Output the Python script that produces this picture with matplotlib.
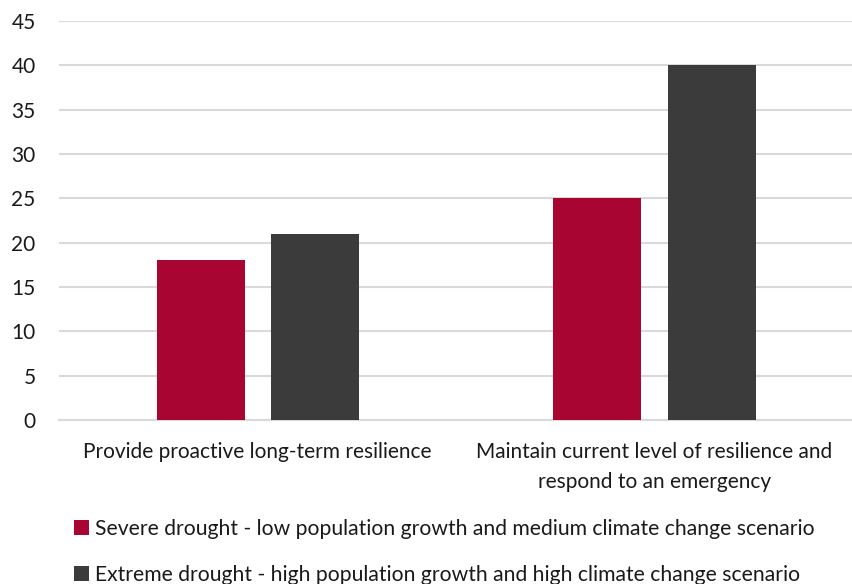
import matplotlib
matplotlib.use("Agg")
import matplotlib.pyplot as plt
import numpy as np

categories = ["Provide proactive long-term resilience",
              "Maintain current level of resilience and\nrespond to an emergency"]
series_names = ["Severe drought - low population growth and medium climate change scenario",
                "Extreme drought - high population growth and high climate change scenario"]
severe = [18, 25]
extreme = [21, 40]
colors = ["#A90533", "#3B3B3B"]

plt.rcParams['font.family'] = ['Lato', 'DejaVu Sans']

fig = plt.figure(figsize=(8.53, 5.84), dpi=100)
ax = fig.add_axes([0.0695, 0.281, 0.9305, 0.683])

x = np.arange(len(categories))
w = 0.222
off = 0.144
ax.bar(x - off, severe, w, color=colors[0], label=series_names[0], zorder=3)
ax.bar(x + off, extreme, w, color=colors[1], label=series_names[1], zorder=3)

ax.set_xlim(-0.5, 1.5)
ax.set_ylim(0, 45)
ax.set_yticks(np.arange(0, 46, 5))
ax.yaxis.grid(True, color="#D9D9D9", linewidth=1.5, zorder=0)
ax.set_axisbelow(True)
for s in ["top", "right", "left"]:
    ax.spines[s].set_visible(False)
ax.spines["bottom"].set_color("#D9D9D9")
ax.spines["bottom"].set_linewidth(1.5)
ax.tick_params(axis="both", length=0, labelsize=15, colors="#1a1a1a")
ax.tick_params(axis="y", pad=17)
ax.tick_params(axis="x", pad=16)
ax.set_xticks(x)
ax.set_xticklabels(categories, linespacing=1.6)

fig.legend(loc="upper left", bbox_to_anchor=(0.087, 0.111), frameon=False,
           fontsize=15.2, handlelength=0.7, handleheight=0.7, handletextpad=0.3,
           labelspacing=1.2, borderaxespad=0, borderpad=0, labelcolor="#1a1a1a")

fig.savefig("out.png", dpi=100)
